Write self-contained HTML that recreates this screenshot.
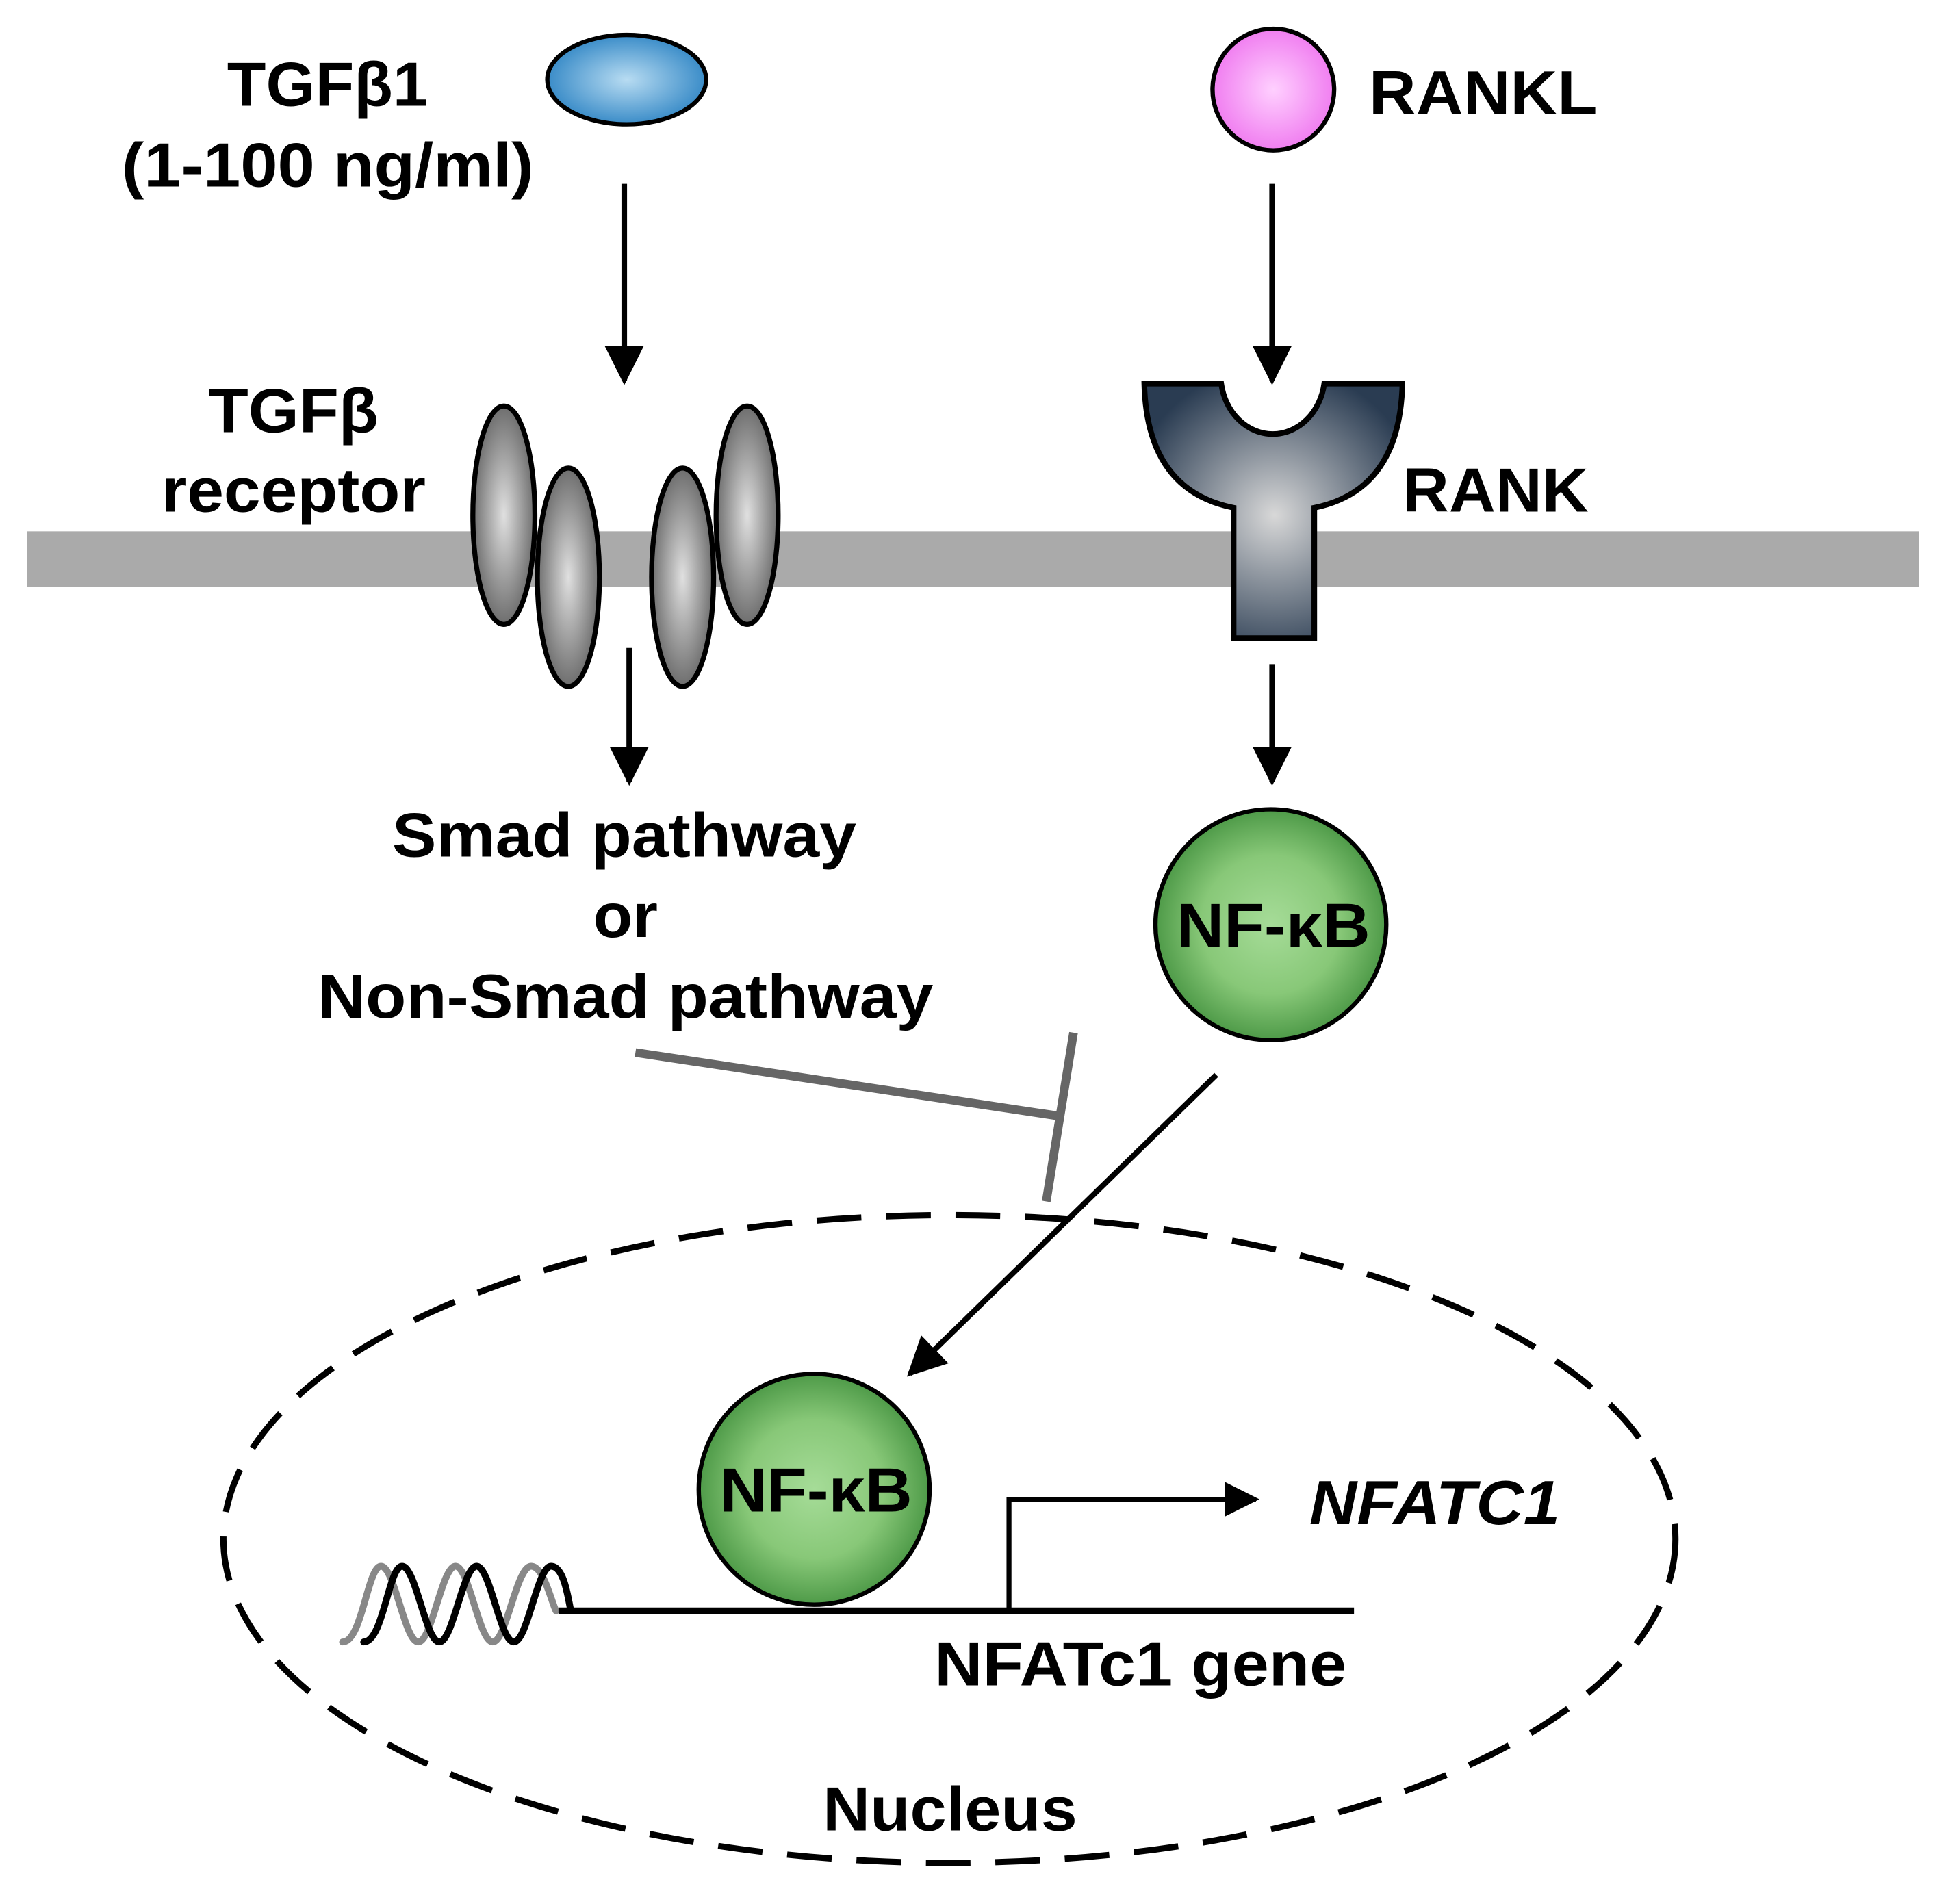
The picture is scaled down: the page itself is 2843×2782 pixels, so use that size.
<!DOCTYPE html>
<html><head><meta charset="utf-8"><style>html,body{margin:0;padding:0;background:#fff}svg{display:block}</style></head>
<body>
<svg width="2843" height="2782" viewBox="0 0 1568 1534" xmlns="http://www.w3.org/2000/svg" font-family="Liberation Sans, Arial, sans-serif" font-weight="bold">
<defs>
<radialGradient id="blue" cx="50%" cy="50%" r="50%"><stop offset="0" stop-color="#b8dcf2"/><stop offset="1" stop-color="#3a8cc8"/></radialGradient>
<radialGradient id="pink" cx="50%" cy="50%" r="50%"><stop offset="0" stop-color="#ffd0ff"/><stop offset="1" stop-color="#f07ef0"/></radialGradient>
<radialGradient id="gray" cx="50%" cy="50%" r="50%"><stop offset="0" stop-color="#e0e0e0"/><stop offset="1" stop-color="#6e6e6e"/></radialGradient>
<radialGradient id="green" cx="50%" cy="50%" r="50%"><stop offset="0" stop-color="#a6dc98"/><stop offset="0.6" stop-color="#88c878"/><stop offset="1" stop-color="#4e9a48"/></radialGradient>
<radialGradient id="rank" gradientUnits="userSpaceOnUse" cx="1027" cy="415" r="120"><stop offset="0" stop-color="#d8d8d8"/><stop offset="1" stop-color="#2a3c52"/></radialGradient>
<marker id="ah" viewBox="0 0 10 10" refX="9" refY="5" markerWidth="7" markerHeight="7" orient="auto" markerUnits="strokeWidth"><path d="M0,0 L10,5 L0,10 z" fill="#000"/></marker>
</defs>

<rect x="22" y="428" width="1524" height="45" fill="#aaaaaa"/>

<ellipse cx="505" cy="64" rx="64" ry="36" fill="url(#blue)" stroke="#000" stroke-width="3.5"/>
<circle cx="1026" cy="72" r="49" fill="url(#pink)" stroke="#000" stroke-width="3.5"/>

<g font-size="50">
<text x="183" y="85" textLength="162" lengthAdjust="spacingAndGlyphs">TGFβ1</text>
<text x="98" y="150" textLength="332" lengthAdjust="spacingAndGlyphs">(1-100 ng/ml)</text>
<text x="1103" y="92" textLength="184" lengthAdjust="spacingAndGlyphs">RANKL</text>
<text x="168" y="348" textLength="137" lengthAdjust="spacingAndGlyphs">TGFβ</text>
<text x="130" y="412" textLength="213" lengthAdjust="spacingAndGlyphs">receptor</text>
<text x="1130" y="412" textLength="150" lengthAdjust="spacingAndGlyphs">RANK</text>
<text x="316" y="690" textLength="374" lengthAdjust="spacingAndGlyphs">Smad pathway</text>
<text x="478" y="755" textLength="52" lengthAdjust="spacingAndGlyphs">or</text>
<text x="256" y="820" textLength="496" lengthAdjust="spacingAndGlyphs">Non-Smad pathway</text>
</g>

<g stroke="#000" stroke-width="4.5" fill="none">
<line x1="503" y1="148" x2="503" y2="307" marker-end="url(#ah)"/>
<line x1="1025" y1="148" x2="1025" y2="307" marker-end="url(#ah)"/>
<line x1="507" y1="522" x2="507" y2="630" marker-end="url(#ah)"/>
<line x1="1025" y1="535" x2="1025" y2="630" marker-end="url(#ah)"/>
<line x1="980" y1="866" x2="733" y2="1107" marker-end="url(#ah)"/>
</g>

<g fill="url(#gray)" stroke="#000" stroke-width="4">
<ellipse cx="406" cy="415" rx="25" ry="88"/>
<ellipse cx="458" cy="465" rx="25" ry="88"/>
<ellipse cx="550" cy="465" rx="25" ry="88"/>
<ellipse cx="602" cy="415" rx="25" ry="88"/>
</g>

<path d="M922,309 L984,309 A42,48 0 0 0 1067,309 L1130,309 Q1128,395 1059,409 L1059,514 L994,514 L994,409 Q924,395 922,309 Z" fill="url(#rank)" stroke="#000" stroke-width="4.5"/>

<circle cx="1024" cy="745" r="93" fill="url(#green)" stroke="#000" stroke-width="3.5"/>
<text x="948" y="763" font-size="50" textLength="156" lengthAdjust="spacingAndGlyphs">NF-κB</text>

<g stroke="#666" stroke-width="7" fill="none">
<line x1="512" y1="848" x2="852" y2="899"/>
<line x1="865" y1="832" x2="843" y2="968"/>
</g>

<ellipse cx="765" cy="1240" rx="585" ry="261" fill="none" stroke="#000" stroke-width="5" stroke-dasharray="36,20"/>

<g fill="none" stroke-width="5.5" stroke-linecap="round">
<path d="M276,1323 C292,1323 296,1262 307,1262 C318,1262 326,1323 337,1323 C348,1323 356,1262 367,1262 C378,1262 386,1323 397,1323 C408,1323 416,1262 428,1262 C438,1262 444,1290 448,1298" stroke="#888"/>
<path d="M293,1323 C309,1323 313,1262 324,1262 C335,1262 343,1323 354,1323 C365,1323 373,1262 384,1262 C395,1262 403,1323 414,1323 C425,1323 433,1262 444,1262 C455,1262 458,1290 460,1298" stroke="#000"/>
</g>
<line x1="450" y1="1298" x2="1091" y2="1298" stroke="#000" stroke-width="5.5"/>

<circle cx="656" cy="1200" r="93" fill="url(#green)" stroke="#000" stroke-width="3.5"/>
<text x="580" y="1218" font-size="50" textLength="155" lengthAdjust="spacingAndGlyphs">NF-κB</text>

<path d="M813,1298 L813,1208 L1012,1208" fill="none" stroke="#000" stroke-width="4" marker-end="url(#ah)"/>
<g font-size="50">
<text x="1055" y="1228" font-style="italic" textLength="202" lengthAdjust="spacingAndGlyphs">NFATC1</text>
<text x="753" y="1358" textLength="332" lengthAdjust="spacingAndGlyphs">NFATc1 gene</text>
<text x="663" y="1475" textLength="205" lengthAdjust="spacingAndGlyphs">Nucleus</text>
</g>
</svg>
</body></html>
